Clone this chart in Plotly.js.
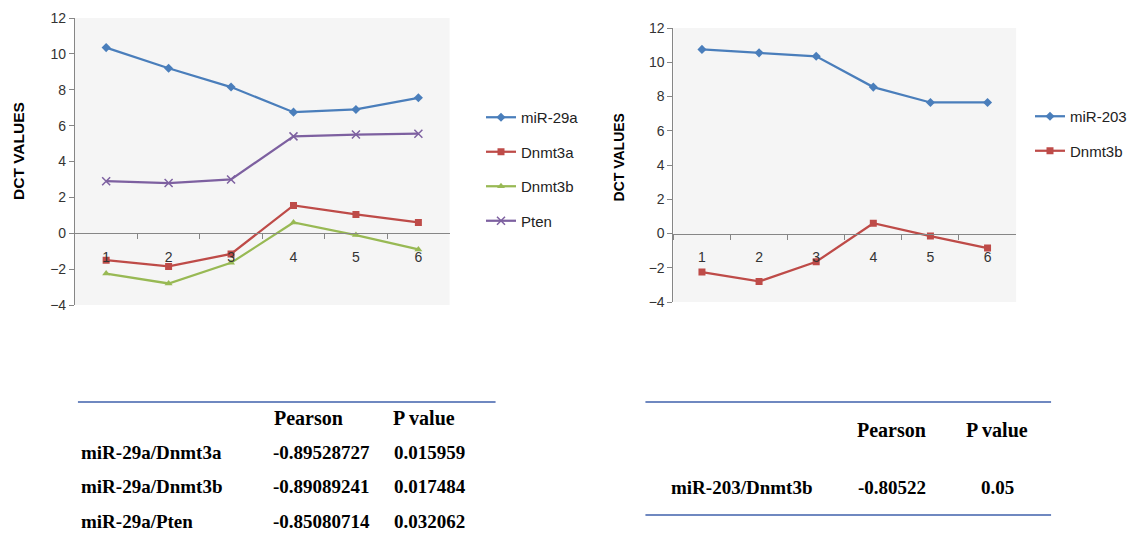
<!DOCTYPE html>
<html>
<head>
<meta charset="utf-8">
<script src="https://cdn.plot.ly/plotly-3.0.1.min.js"></script>
<style>html,body{margin:0;padding:0;background:#fff;}#chart{width:1132px;height:533px;}</style>
</head>
<body>
<div id="chart"></div>
<script>
// ---- data ----
const categories = ['1', '2', '3', '4', '5', '6'];

const mir29a = [10.35, 9.2, 8.15, 6.75, 6.9, 7.55];
const dnmt3aLeft = [-1.5, -1.85, -1.15, 1.55, 1.05, 0.6];
const dnmt3bLeft = [-2.25, -2.8, -1.65, 0.6, -0.1, -0.9];
const pten = [2.9, 2.8, 3.0, 5.4, 5.5, 5.55];

const mir203 = [10.75, 10.55, 10.35, 8.55, 7.65, 7.65];
const dnmt3bRight = [-2.25, -2.8, -1.65, 0.6, -0.15, -0.85];

const yTickVals = [-4, -2, 0, 2, 4, 6, 8, 10, 12];
const yTitle = 'DCT VALUES';

const tableHeader = ['Pearson', 'P value'];
const leftPairs = ['miR-29a/Dnmt3a', 'miR-29a/Dnmt3b', 'miR-29a/Pten'];
const leftPearson = ['-0.89528727', '-0.89089241', '-0.85080714'];
const leftP = ['0.015959', '0.017484', '0.032062'];
const rightPairs = ['miR-203/Dnmt3b'];
const rightPearson = ['-0.80522'];
const rightP = ['0.05'];

// ---- styling ----
const W = 1132, H = 533;
const px = v => v / W;
const py = v => 1 - v / H;
const colors = {blue: '#4a7ebb', red: '#be4b48', green: '#98b954', purple: '#7d60a0'};
const axisGray = '#868686';
const sans = 'Liberation Sans, Arial, sans-serif';
const tickFont = {family: sans, size: 14, color: '#333'};

const leftDom = {x: [px(75), px(450)], y: [py(305), py(18)]};
const rightDom = {x: [px(674), px(1017)], y: [py(302), py(28)]};
const yRange = [-4, 12];
const zeroPos = d => d.y[0] + (0 - yRange[0]) / (yRange[1] - yRange[0]) * (d.y[1] - d.y[0]);

function line(name, y, color, symbol, xa, ya, legend, grp) {
  return {
    type: 'scatter', mode: 'lines+markers', name: name,
    x: categories, y: y, xaxis: xa, yaxis: ya, legend: legend, legendgroup: grp,
    line: {color: color, width: 2.25},
    marker: {color: color, symbol: symbol, size: symbol === 'x-thin-open' ? 8 : 7,
             line: {color: color, width: symbol === 'x-thin-open' ? 1.5 : 0}}
  };
}

const traces = [
  line('miR-29a', mir29a, colors.blue, 'diamond', 'x', 'y', 'legend', 'a'),
  line('Dnmt3a', dnmt3aLeft, colors.red, 'square', 'x', 'y', 'legend', 'b'),
  line('Dnmt3b', dnmt3bLeft, colors.green, 'triangle-up', 'x', 'y', 'legend', 'c'),
  line('Pten', pten, colors.purple, 'x-thin-open', 'x', 'y', 'legend', 'd'),
  line('miR-203', mir203, colors.blue, 'diamond', 'x2', 'y2', 'legend2', 'e'),
  line('Dnmt3b', dnmt3bRight, colors.red, 'square', 'x2', 'y2', 'legend2', 'f')
];

function xAxis(dom) {
  return {
    type: 'category', domain: dom.x, anchor: 'free', position: zeroPos(dom),
    range: [-0.5, 5.5], showline: true, linecolor: axisGray, linewidth: 1,
    ticks: 'outside', tickson: 'boundaries', ticklen: 5, tickcolor: axisGray,
    showgrid: false, zeroline: false, tickfont: tickFont, ticklabelstandoff: 11,
    fixedrange: true
  };
}
function yAxis(dom, xa) {
  return {
    domain: dom.y, anchor: xa, range: yRange, tickvals: yTickVals,
    showline: true, linecolor: axisGray, ticks: 'outside', ticklen: 5, tickcolor: axisGray,
    showgrid: false, zeroline: false, tickfont: tickFont,
    fixedrange: true
  };
}

const annotations = [];
const serif = {family: 'Liberation Serif, Times New Roman, serif', size: 19, color: '#000', weight: 'bold'};
const serifHead = Object.assign({}, serif, {size: 20});
function ann(text, x, y, xanchor, font, angle) {
  annotations.push({xref: 'paper', yref: 'paper', x: px(x), y: py(y), text: text,
    showarrow: false, xanchor: xanchor, yanchor: 'middle', font: font, textangle: angle || 0});
}
// axis titles
ann(yTitle, 18, 151, 'center', {family: sans, size: 15.5, color: '#000', weight: 'bold'}, -90);
ann(yTitle, 620, 157, 'center', {family: sans, size: 14, color: '#000', weight: 'bold'}, -90);
// left table
ann(tableHeader[0], 272, 418, 'left', serifHead);
ann(tableHeader[1], 391, 418, 'left', serifHead);
leftPairs.forEach((t, i) => {
  const y = 452 + i * 34.5;
  ann(t, 79, y, 'left', serif);
  ann(leftPearson[i], 271, y, 'left', serif);
  ann(leftP[i], 392, y, 'left', serif);
});
// right table
ann(tableHeader[0], 892, 430, 'center', serifHead);
ann(tableHeader[1], 998, 430, 'center', serifHead);
rightPairs.forEach((t, i) => {
  const y = 487 + i * 34.5;
  ann(t, 742, y, 'center', serif);
  ann(rightPearson[i], 893, y, 'center', serif);
  ann(rightP[i], 998, y, 'center', serif);
});

const tableLine = '#6f88c0';
const shapes = [
  {type: 'line', xref: 'paper', yref: 'paper', x0: px(78), x1: px(496), y0: py(402), y1: py(402), line: {color: tableLine, width: 2}},
  {type: 'line', xref: 'paper', yref: 'paper', x0: px(646), x1: px(1052), y0: py(402), y1: py(402), line: {color: tableLine, width: 2}},
  {type: 'line', xref: 'paper', yref: 'paper', x0: px(646), x1: px(1052), y0: py(515), y1: py(515), line: {color: tableLine, width: 2}}
];

const legendFont = {family: sans, size: 15, color: '#222'};
const layout = {
  width: W, height: H,
  margin: {l: 0, r: 0, t: 0, b: 0},
  paper_bgcolor: '#ffffff', plot_bgcolor: '#f5f5f5',
  xaxis: xAxis(leftDom), yaxis: yAxis(leftDom, 'x'),
  xaxis2: xAxis(rightDom), yaxis2: yAxis(rightDom, 'x2'),
  legend: {x: px(481), y: py(101), xanchor: 'left', yanchor: 'top', font: legendFont,
           bgcolor: 'rgba(0,0,0,0)', tracegroupgap: 12, itemwidth: 30, traceorder: 'grouped'},
  legend2: {x: px(1031), y: py(100), xanchor: 'left', yanchor: 'top', font: legendFont,
           bgcolor: 'rgba(0,0,0,0)', tracegroupgap: 12, itemwidth: 30, traceorder: 'grouped'},
  annotations: annotations, shapes: shapes,
  hovermode: false
};

Plotly.newPlot('chart', traces, layout, {displayModeBar: false, staticPlot: true});
</script>
</body>
</html>
